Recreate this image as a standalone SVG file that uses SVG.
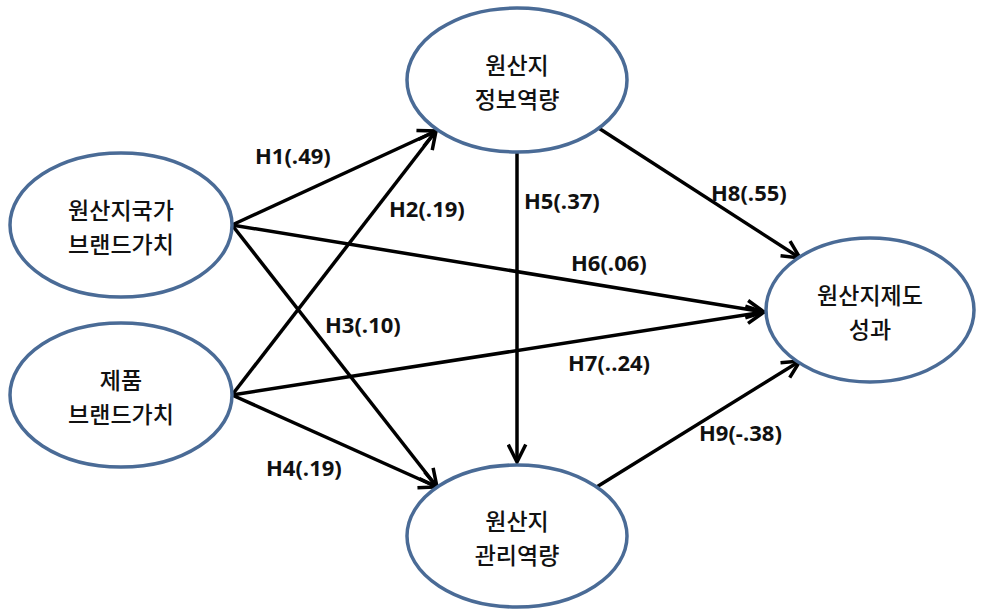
<svg xmlns="http://www.w3.org/2000/svg" width="984" height="611" viewBox="0 0 984 611">
<style>
.node ellipse{fill:#fff;stroke:#4a6b96;stroke-width:3.5}
.node text{font-family:"Noto Sans CJK KR","Noto Sans",sans-serif;font-size:23px;font-weight:500;fill:#111;text-anchor:middle}
.edges line{stroke:#000;stroke-width:3.5;marker-end:url(#arr)}
.lbl{font-family:"Open Sans","Liberation Sans",sans-serif;font-size:22px;font-weight:bold;fill:#111}
</style>
<defs>
<marker id="arr" viewBox="0 0 12 12" refX="11" refY="6" markerWidth="6" markerHeight="6" markerUnits="strokeWidth" orient="auto">
<path d="M1,1 L11,6 L1,11" fill="none" stroke="#000" stroke-width="2"/>
</marker>
</defs>
<rect width="984" height="611" fill="#fff"/>
<g class="edges">
<line x1="232" y1="225" x2="436" y2="131"/>
<line x1="232" y1="395" x2="436" y2="131"/>
<line x1="232" y1="225" x2="437" y2="487"/>
<line x1="232" y1="395" x2="437" y2="487"/>
<line x1="517" y1="152" x2="517" y2="462"/>
<line x1="232" y1="225" x2="764" y2="312"/>
<line x1="232" y1="395" x2="764" y2="312"/>
<line x1="597" y1="127" x2="800" y2="258"/>
<line x1="595" y1="488" x2="800" y2="361"/>
</g>
<g id="n1" class="node"><ellipse cx="121" cy="225" rx="111" ry="72"/><text x="121" y="219">원산지국가</text><text x="121" y="253">브랜드가치</text></g>
<g id="n2" class="node"><ellipse cx="121" cy="395" rx="111" ry="72"/><text x="121" y="389">제품</text><text x="121" y="423">브랜드가치</text></g>
<g id="n3" class="node"><ellipse cx="517" cy="80" rx="110" ry="72"/><text x="517" y="74">원산지</text><text x="517" y="108">정보역량</text></g>
<g id="n4" class="node"><ellipse cx="517" cy="536" rx="110" ry="71"/><text x="517" y="530">원산지</text><text x="517" y="564">관리역량</text></g>
<g id="n5" class="node"><ellipse cx="870" cy="310" rx="104" ry="72"/><text x="870" y="304">원산지제도</text><text x="870" y="338">성과</text></g>
<g class="labels">
<text class="lbl" x="255" y="164">H1(.49)</text>
<text class="lbl" x="389" y="217">H2(.19)</text>
<text class="lbl" x="325" y="333">H3(.10)</text>
<text class="lbl" x="266" y="476">H4(.19)</text>
<text class="lbl" x="524" y="209">H5(.37)</text>
<text class="lbl" x="571" y="271">H6(.06)</text>
<text class="lbl" x="568" y="371">H7(..24)</text>
<text class="lbl" x="711" y="201">H8(.55)</text>
<text class="lbl" x="699" y="441">H9(-.38)</text>
</g>
</svg>
